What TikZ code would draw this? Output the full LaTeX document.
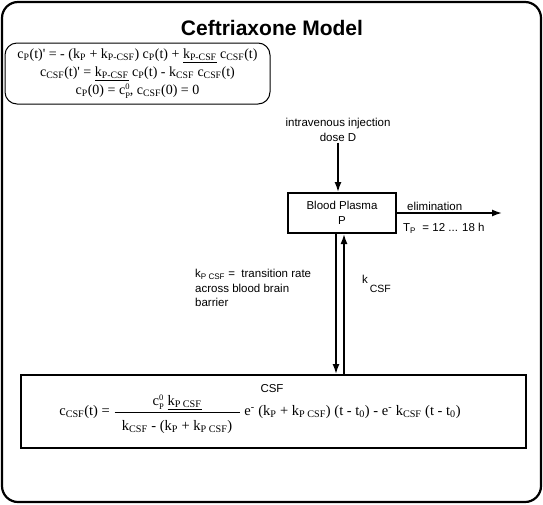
\documentclass[tikz,border=0pt]{standalone}
\usepackage{fontspec}
\setmainfont{Liberation Serif}
\newfontfamily\arial{Liberation Sans}
\usetikzlibrary{arrows.meta,positioning}

\newcommand{\lo}[1]{\textsubscript{#1}}
\newcommand{\czero}{c\rlap{\raisebox{5.5pt}{\fontsize{8.5}{9}\selectfont 0}}\raisebox{-3.5pt}{\fontsize{8.5}{9}\selectfont P}}
\newcommand{\prm}{\textquotesingle}

\begin{document}
\begin{tikzpicture}[x=1pt,y=-1pt,
  lbl/.style={font=\arial\fontsize{11.5}{14.5}\selectfont, align=center, inner sep=1pt},
  eqn/.style={font=\fontsize{14}{17.5}\selectfont, align=center, inner sep=1pt},
  compartment/.style={draw, line width=2pt},
  flow/.style={line width=1.6pt, -{Latex[length=10pt,width=7pt]}}]

  \useasboundingbox (0,0) rectangle (543,504);
  \draw[line width=2.2pt, rounded corners=16pt] (2,2) rectangle (541,502);

  \node[font=\arial\bfseries\fontsize{21}{24}\selectfont] (title) at (272,28) {Ceftriaxone Model};

  % system of equations
  \node[draw, line width=1pt, rounded corners=12pt, minimum width=265pt, minimum height=61pt,
        eqn] (odes) at (137.5,73.5)
    {c\lo{P}(t)\prm{} = - (k\lo{P} + k\lo{P-CSF}) c\lo{P}(t) + \underline{k\lo{P-CSF}} c\lo{CSF}(t)\\
     c\lo{CSF}(t)\prm{} = \underline{k\lo{P-CSF}} c\lo{P}(t) - k\lo{CSF} c\lo{CSF}(t)\\[1pt]
     c\lo{P}(0) = \czero, c\lo{CSF}(0) = 0};

  % compartments
  \node[compartment, minimum width=108pt, minimum height=40pt, lbl] (plasma) at (342,213)
    {Blood Plasma\\P};
  \node[compartment, minimum width=505pt, minimum height=73pt] (csf) at (273.5,411.5) {};
  \node[lbl] (csflabel) at (272,389) {CSF};
  \node[eqn, font=\fontsize{14.5}{17.5}\selectfont] (csfeq) at (260,414)
    {c\lo{CSF}(t) = $\displaystyle\frac{\mbox{\czero\ \underline{k\lo{P CSF}}}\rule[-5pt]{0pt}{5pt}}
       {\rule{0pt}{17pt}\mbox{\ \ k\lo{CSF} - (k\lo{P} + k\lo{P CSF})\ \ }}$
     e\textsuperscript{-} (k\lo{P} + k\lo{P CSF}) (t - t\lo{0}) - e\textsuperscript{-} k\lo{CSF} (t - t\lo{0})};

  % dose and elimination
  \node[lbl] (dose) at (338,130) {intravenous injection\\dose D};
  \draw[flow] (dose.south) -- (dose.south |- plasma.north);

  \coordinate (elimend) at (502,213);
  \draw[flow] (plasma.east) -- (elimend);
  \node[lbl, anchor=west] (elim) at (406,206) {elimination};
  \node[lbl, anchor=west] (halflife) at (402,228) {T\lo{P}\ \ = 12 ... 18 h};

  % exchange across the barrier
  \coordinate (down) at ([xshift=-6pt]plasma.south);
  \coordinate (up) at ([xshift=2pt]plasma.south);
  \draw[flow] (down) -- (down |- csf.north);
  \draw[flow] (up |- csf.north) -- (up);

  \node[lbl, anchor=west] (kcsf) at (361,284)
    {k\raisebox{-9pt}{\,\fontsize{10.5}{12}\selectfont CSF}};
  \node[lbl, anchor=north west, align=left] (kpcsf) at (194,268)
    {k\lo{P CSF} = \ transition rate\\across blood brain\\barrier};
\end{tikzpicture}
\end{document}
